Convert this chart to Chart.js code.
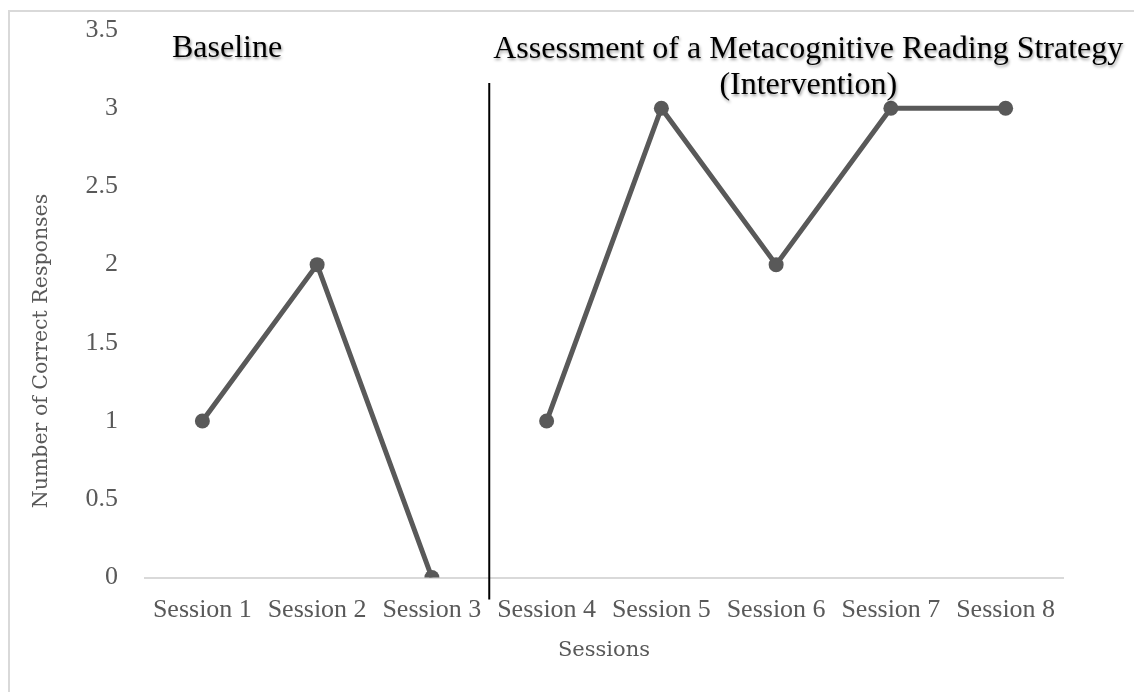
<!DOCTYPE html>
<html>
<head>
<meta charset="utf-8">
<script src="https://cdn.jsdelivr.net/npm/chart.js@4.4.0/dist/chart.umd.min.js"></script>
<style>
  body { margin: 0; overflow: hidden; background: #fff; }
  #wrap { position: relative; width: 1134px; height: 692px; }
  #frame { position: absolute; left: 8px; top: 10px; width: 1200px; height: 800px;
           border: 2px solid #d9d9d9; pointer-events: none; }
</style>
</head>
<body>
<div id="wrap">
  <canvas id="chart" width="1134" height="692"></canvas>
  <div id="frame"></div>
</div>
<script>
const sessions = ["Session 1", "Session 2", "Session 3", "Session 4", "Session 5", "Session 6", "Session 7", "Session 8"];
const baseline = [1, 2, 0, null, null, null, null, null];
const intervention = [null, null, null, 1, 3, 2, 3, 3];
const phaseLabels = ["Baseline", "Assessment of a Metacognitive Reading Strategy", "(Intervention)"];
const yTitle = "Number of Correct Responses";

const grey = '#595959';
const tickFont = { family: 'Liberation Serif', size: 26 };
const titleFont = { family: 'DejaVu Serif', size: 21 };

// phase change line, phase titles and the y title (centred on the whole frame, not the plot)
const phasePlugin = {
    id: 'phase',
    afterDraw(chart) {
        const ctx = chart.ctx;
        const x = chart.scales.x;
        const area = chart.chartArea;
        const px = x.getPixelForValue(2.5);
        ctx.save();
        ctx.strokeStyle = '#000';
        ctx.lineWidth = 2;
        ctx.beginPath();
        ctx.moveTo(px, area.top + 53);
        ctx.lineTo(px, area.bottom + 22);
        ctx.stroke();

        ctx.save();
        ctx.translate(42, (chart.height + 10) / 2);
        ctx.rotate(-Math.PI / 2);
        ctx.font = '20.5px "DejaVu Serif"';
        ctx.fillStyle = grey;
        ctx.textAlign = 'center';
        ctx.textBaseline = 'middle';
        ctx.fillText(yTitle, 0, 0);
        ctx.restore();

        ctx.font = '32px "Liberation Serif"';
        ctx.fillStyle = '#000';
        ctx.textBaseline = 'middle';
        ctx.shadowColor = 'rgba(0,0,0,0.4)';
        ctx.shadowOffsetX = 1;
        ctx.shadowOffsetY = 2;
        ctx.shadowBlur = 3;
        ctx.textAlign = 'left';
        ctx.fillText(phaseLabels[0], area.left + 27, area.top + 19);
        ctx.textAlign = 'center';
        ctx.fillText(phaseLabels[1], px + 319, area.top + 20);
        ctx.fillText(phaseLabels[2], px + 319, area.top + 56);
        ctx.restore();
    }
};

const lineStyle = {
    borderColor: grey,
    backgroundColor: grey,
    borderWidth: 5,
    pointRadius: 7.5,
    pointHoverRadius: 7.5,
    pointBorderWidth: 0,
    spanGaps: false,
    tension: 0,
};

new Chart(document.getElementById('chart').getContext('2d'), {
    type: 'line',
    data: {
        labels: sessions,
        datasets: [
            Object.assign({ label: 'Baseline', data: baseline }, lineStyle),
            Object.assign({ label: 'Intervention', data: intervention }, lineStyle),
        ],
    },
    options: {
        responsive: false,
        animation: false,
        layout: { padding: { top: 30, right: 71, left: 0, bottom: 0 } },
        plugins: {
            legend: { display: false },
            tooltip: { enabled: false },
        },
        scales: {
            x: {
                offset: true,
                grid: { display: false, drawTicks: false },
                border: { display: true, color: '#d9d9d9', width: 2 },
                ticks: { color: grey, font: tickFont, padding: 17, maxRotation: 0, autoSkip: false },
                title: { display: true, text: 'Sessions', color: grey, font: titleFont, padding: { top: 0, bottom: 29 } },
                afterFit(scale) { scale.height = 114.5; scale.paddingLeft = 0; scale.paddingRight = 0; },
            },
            y: {
                min: 0,
                max: 3.5,
                grid: { display: false, drawTicks: false },
                border: { display: false },
                ticks: {
                    stepSize: 0.5, color: grey, font: tickFont, padding: 27,
                    callback: (v) => String(Number(v.toFixed(1))),
                },
                title: { display: false },
                afterFit(scale) { scale.width = 145; scale.paddingTop = 0; scale.paddingBottom = 0; },
            },
        },
    },
    plugins: [phasePlugin],
});
</script>
</body>
</html>
